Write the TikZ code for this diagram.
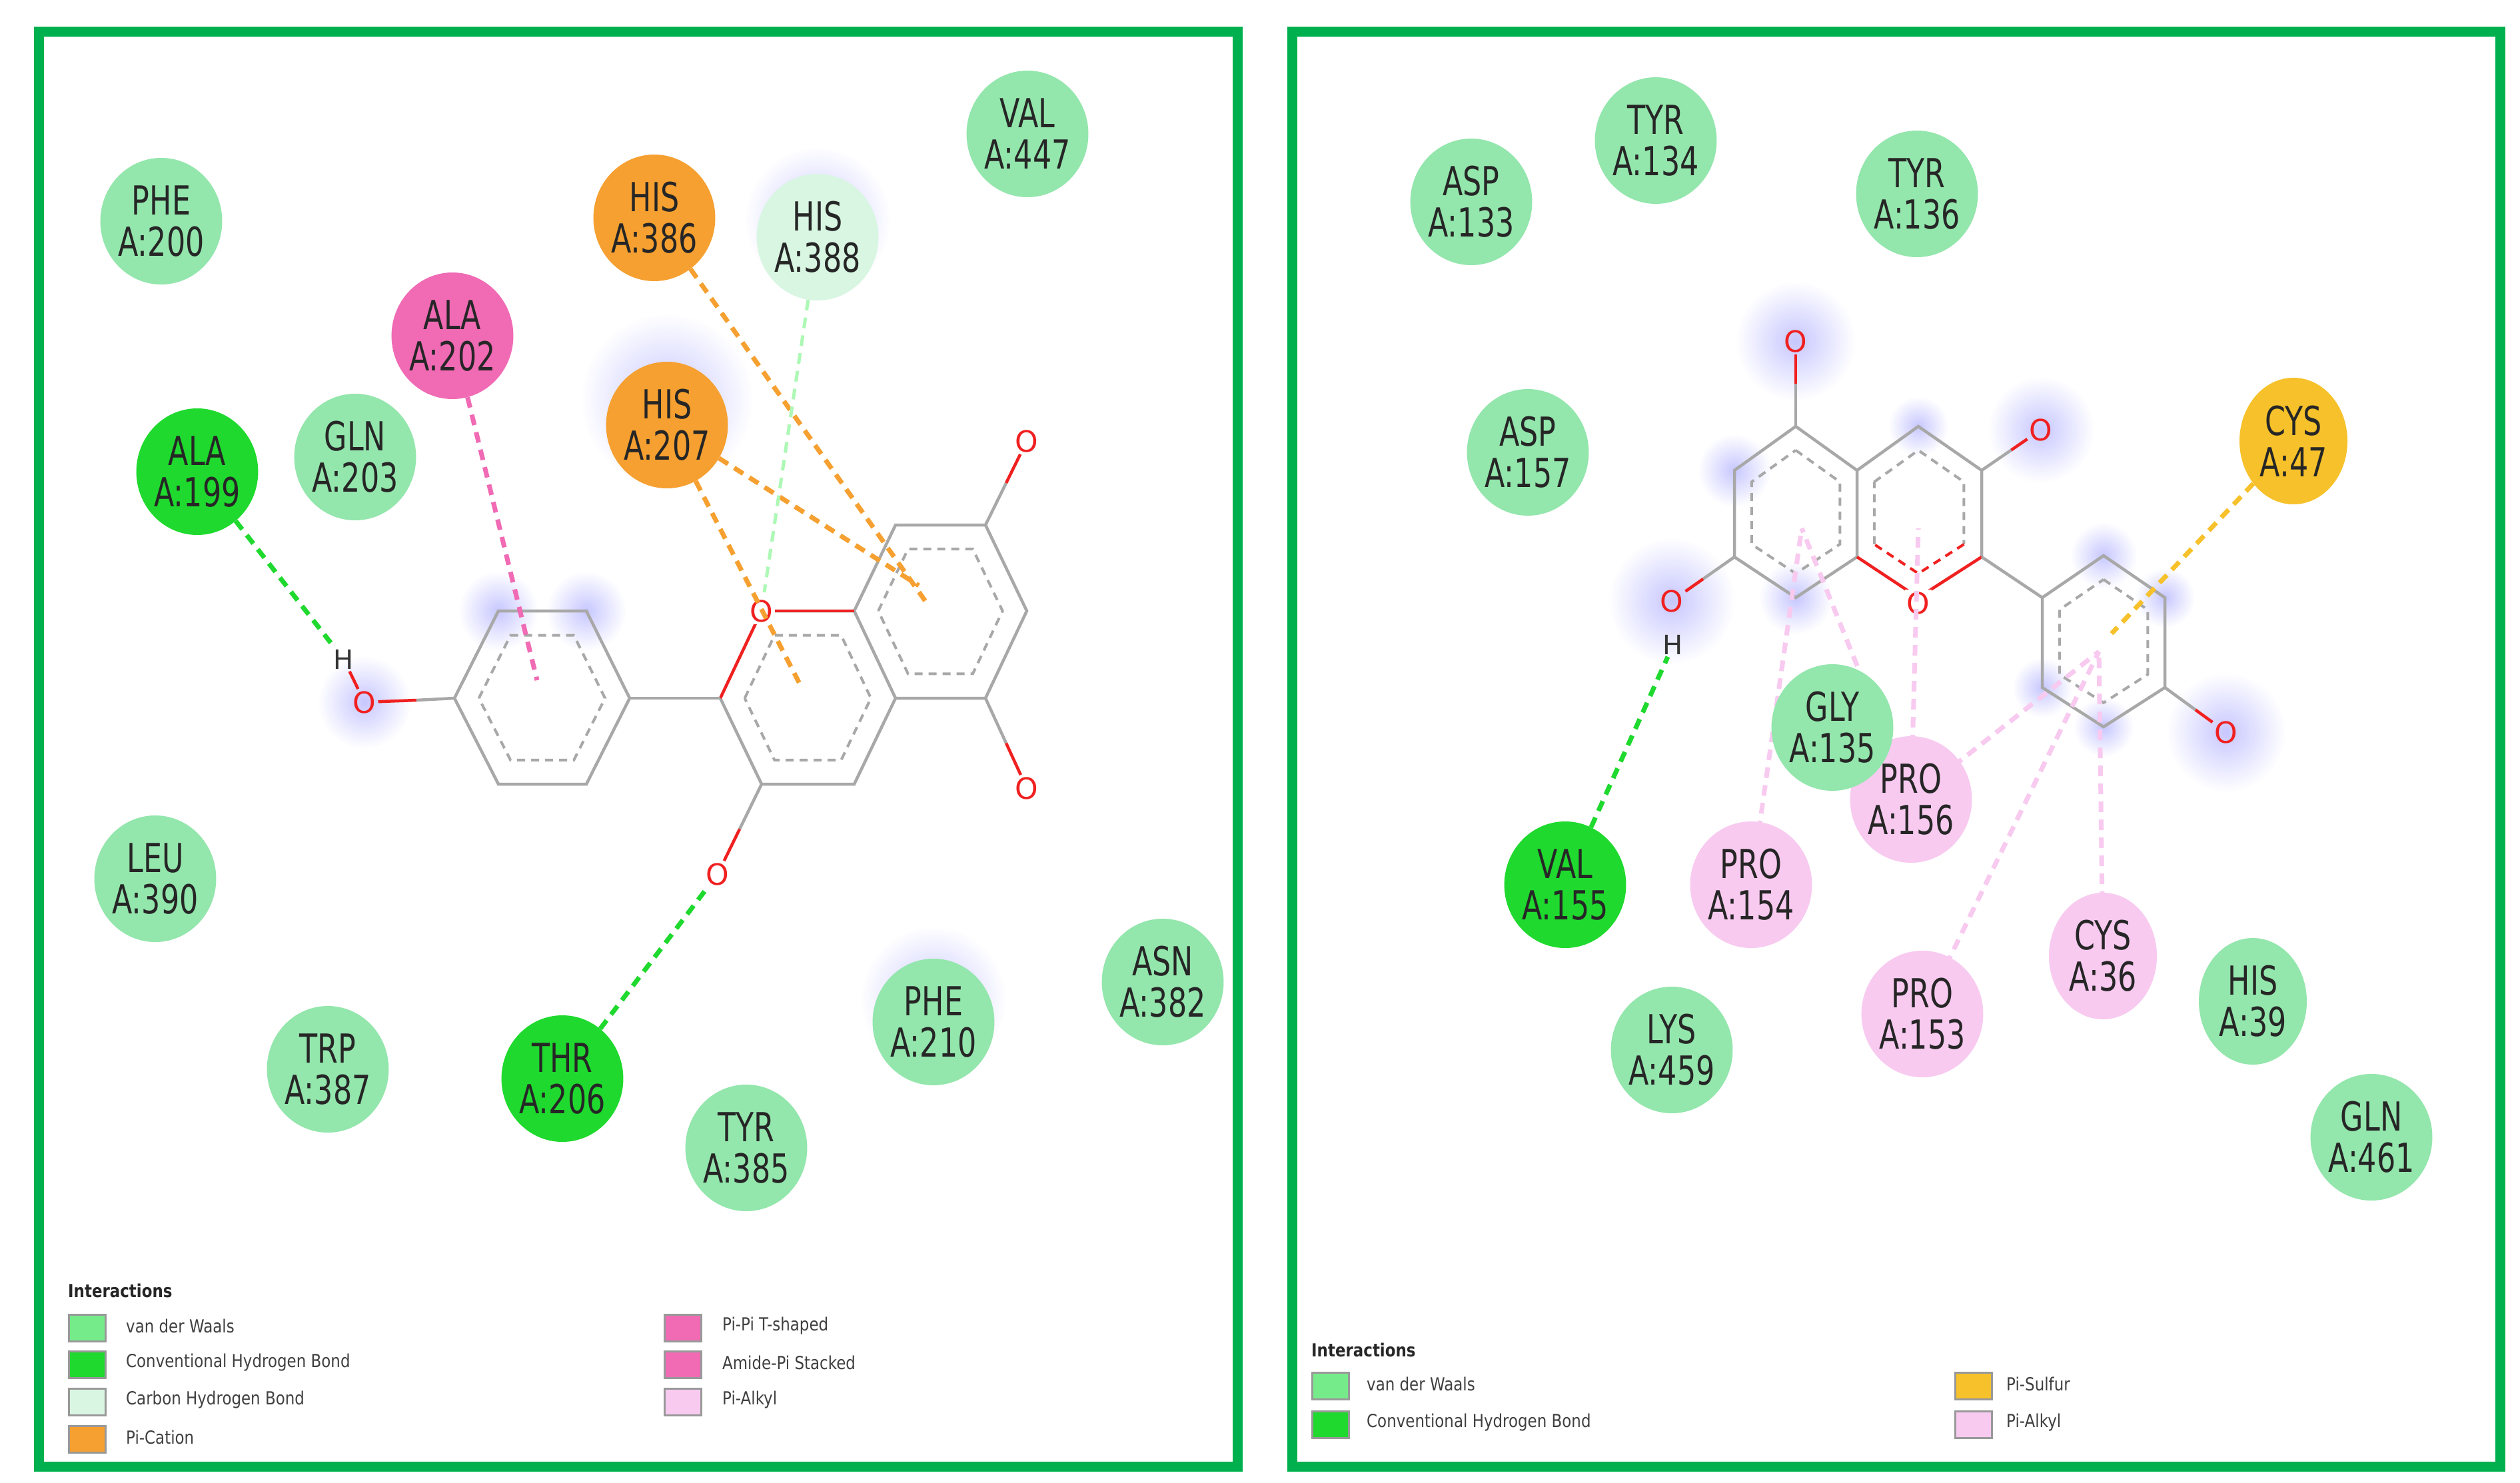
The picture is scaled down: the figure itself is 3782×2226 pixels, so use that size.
\documentclass[tikz,border=0pt]{standalone}
\usepackage{fontspec}
\setmainfont{DejaVu Sans}
\usetikzlibrary{shapes.geometric,calc}
\definecolor{vdw}{HTML}{93E6AC}
\definecolor{hbc}{HTML}{1FD92E}
\definecolor{chb}{HTML}{D8F6E2}
\definecolor{cat}{HTML}{F5A030}
\definecolor{pipi}{HTML}{F06AB4}
\definecolor{alk}{HTML}{F8CAF0}
\definecolor{sul}{HTML}{F6C12A}
\definecolor{frm}{HTML}{00B04E}
\definecolor{bond}{HTML}{A8A8A8}
\definecolor{oxy}{HTML}{F02020}
\newcommand{\resfont}{\fontsize{60}{62}\selectfont}
\newcommand{\legfont}{\fontsize{27}{30}\selectfont}
\newcommand{\rl}[2]{\scalebox{0.74}[1]{#1}\\\scalebox{0.74}[1]{#2}}
\tikzset{
 res/.style={ellipse,minimum width=162pt,minimum height=190pt,inner sep=0pt,align=center,font=\resfont,text=black!85},
 vw/.style={res,fill=vdw},
 hb/.style={res,fill=hbc},
 ch/.style={res,fill=chb},
 ca/.style={res,fill=cat},
 pp/.style={res,fill=pipi},
 al/.style={res,fill=alk},
 su/.style={res,fill=sul},
 bd/.style={draw=bond,line width=4.5pt},
 ib/.style={draw=bond,line width=4pt,dash pattern=on 12pt off 9pt},
 ob/.style={draw=oxy,line width=4.5pt},
 atom/.style={font=\fontsize{44}{44}\selectfont,text=oxy,inner sep=3pt},
 hatom/.style={font=\fontsize{40}{40}\selectfont,text=black!80,inner sep=3pt},
 ia/.style={line width=7pt,dash pattern=on 16pt off 11pt},
 halo/.style={inner color=blue!22,outer color=white},
 frame/.style={draw=frm,line width=15pt},
 lbox/.style={draw=black!40,line width=3pt,minimum width=55pt,minimum height=40pt,inner sep=0pt},
 ltxt/.style={font=\legfont,text=black!75,anchor=west,xscale=0.85,inner sep=0pt},
 lhead/.style={font=\bfseries\legfont,text=black!85,anchor=west,xscale=0.85,inner sep=0pt},
}
\begin{document}
\begin{tikzpicture}[x=1pt,y=-1pt]
\useasboundingbox (0,0) rectangle (3782,2226);
\fill[white] (0,0) rectangle (3782,2226);
% ---------- halos ----------
\foreach \p/\r in {{(748,917)}/60,{(880,917)}/60,{(547,1054)}/70,{(1001,600)}/130,{(1227,330)}/110,{(1401,1500)}/110}
  \shade[halo] \p circle (\r);
\foreach \p/\r in {{(2695,512)}/90,{(3063,645)}/80,{(2509,902)}/95,{(3341,1099)}/90,{(2603,706)}/55,{(2695,897)}/55,{(2879,640)}/45,{(3157,834)}/50,{(3249,897)}/45,{(3065,1032)}/45,{(3157,1091)}/45}
  \shade[halo] \p circle (\r);
% ---------- frames ----------
\draw[frame] (58,48) rectangle (1857,2201);
\draw[frame] (1939,48) rectangle (3752,2201);
% ---------- left molecule ----------
\coordinate (a1) at (682,1048); \coordinate (a2) at (748,917); \coordinate (a3) at (880,917);
\coordinate (a4) at (945,1048); \coordinate (a5) at (880,1177); \coordinate (a6) at (748,1177);
\coordinate (ac) at (813,1048);
\draw[bd] (a1)--(a2)--(a3)--(a4)--(a5)--(a6)--cycle;
\draw[ib] ($(ac)!0.72!(a1)$) -- ($(ac)!0.72!(a2)$) -- ($(ac)!0.72!(a3)$) -- ($(ac)!0.72!(a4)$) -- ($(ac)!0.72!(a5)$) -- ($(ac)!0.72!(a6)$) -- cycle;
\coordinate (b1) at (1081,1048); \coordinate (b2) at (1143,917); \coordinate (b3) at (1282,917);
\coordinate (b4) at (1344,1048); \coordinate (b5) at (1282,1177); \coordinate (b6) at (1143,1177);
\coordinate (bc) at (1212,1048);
\draw[bd] (b2)--(b3)--(b4)--(b5)--(b6)--(b1);
\draw[ob] (b1)--(b2);
\draw[ib] ($(bc)!0.72!(b1)$) -- ($(bc)!0.72!(b2)$) -- ($(bc)!0.72!(b3)$) -- ($(bc)!0.72!(b4)$) -- ($(bc)!0.72!(b5)$) -- ($(bc)!0.72!(b6)$) -- cycle;
\coordinate (c1) at (1282,917); \coordinate (c2) at (1344,788); \coordinate (c3) at (1479,788);
\coordinate (c4) at (1541,917); \coordinate (c5) at (1479,1048); \coordinate (c6) at (1344,1048);
\coordinate (cc) at (1411,917);
\draw[bd] (c1)--(c2)--(c3)--(c4)--(c5)--(c6);
\draw[ib] ($(cc)!0.72!(c1)$) -- ($(cc)!0.72!(c2)$) -- ($(cc)!0.72!(c3)$) -- ($(cc)!0.72!(c4)$) -- ($(cc)!0.72!(c5)$) -- ($(cc)!0.72!(c6)$) -- cycle;
\draw[bd] (a4)--(b1);
\draw[ob] (b2)--(c1);
\node[atom,fill=white] (oring) at (1143,917) {O};
\node[atom] (oa) at (547,1054) {O};
\node[hatom] (ha) at (516,990) {H};
\node[atom] (oc1) at (1541,662) {O};
\node[atom] (oc2) at (1541,1183) {O};
\node[atom] (ob3) at (1077,1312) {O};
\draw[bd] (a1) -- ($(a1)!0.5!(oa.east)$); \draw[ob] ($(a1)!0.5!(oa.east)$) -- (oa);
\draw[ob] (oa) -- (ha);
\draw[bd] (c3) -- ($(c3)!0.5!(oc1)$); \draw[ob] ($(c3)!0.5!(oc1)$) -- (oc1);
\draw[bd] (c5) -- ($(c5)!0.5!(oc2)$); \draw[ob] ($(c5)!0.5!(oc2)$) -- (oc2);
\draw[bd] (b6) -- ($(b6)!0.5!(ob3)$); \draw[ob] ($(b6)!0.5!(ob3)$) -- (ob3);
% ---------- left residues ----------
\node[vw] (phe200) at (242,332) {\rl{PHE}{A:200}};
\node[pp] (ala202) at (679,504) {\rl{ALA}{A:202}};
\node[ca] (his386) at (982,327) {\rl{HIS}{A:386}};
\node[ch] (his388) at (1227,356) {\rl{HIS}{A:388}};
\node[vw] (val447) at (1542,201) {\rl{VAL}{A:447}};
\node[hb] (ala199) at (296,708) {\rl{ALA}{A:199}};
\node[vw] (gln203) at (533,686) {\rl{GLN}{A:203}};
\node[ca] (his207) at (1001,638) {\rl{HIS}{A:207}};
\node[vw] (leu390) at (233,1319) {\rl{LEU}{A:390}};
\node[vw] (trp387) at (492,1605) {\rl{TRP}{A:387}};
\node[hb] (thr206) at (844,1619) {\rl{THR}{A:206}};
\node[vw] (tyr385) at (1120,1723) {\rl{TYR}{A:385}};
\node[vw] (phe210) at (1401,1534) {\rl{PHE}{A:210}};
\node[vw] (asn382) at (1745,1474) {\rl{ASN}{A:382}};
\coordinate (lend1) at (1390,904);
\coordinate (lend2) at (1379,879);
\coordinate (lend3) at (1201,1028);
\coordinate (lend4) at (806,1021);
\coordinate (lend5) at (1147,889);
\draw[ia,draw=hbc] (ala199) -- (ha);
\draw[ia,draw=hbc] (thr206) -- (ob3);
\draw[ia,draw=pipi] (ala202) -- (lend4);
\draw[ia,draw=cat] (his386) -- (lend1);
\draw[ia,draw=cat] (his207) -- (lend2);
\draw[ia,draw=cat] (his207) -- (lend3);
\draw[line width=5pt,dash pattern=on 16pt off 11pt,draw=chb!80!green] (his388) -- (lend5);
% ---------- left legend ----------
\node[lhead] (lh) at (102,1937) {Interactions};
\node[lbox,fill=vdw!80!green] (lb1) at (131,1993) {}; \node[ltxt] (lt1) at (189,1990) {van der Waals};
\node[lbox,fill=hbc] (lb2) at (131,2048) {}; \node[ltxt] (lt2) at (189,2045) {Conventional Hydrogen Bond};
\node[lbox,fill=chb] (lb3) at (131,2104) {}; \node[ltxt] (lt3) at (189,2101) {Carbon Hydrogen Bond};
\node[lbox,fill=cat] (lb4) at (131,2160) {}; \node[ltxt] (lt4) at (189,2157) {Pi-Cation};
\node[lbox,fill=pipi] (lb5) at (1025,1993) {}; \node[ltxt] (lt5) at (1084,1990) {Pi-Pi T-shaped};
\node[lbox,fill=pipi] (lb6) at (1025,2048) {}; \node[ltxt] (lt6) at (1084,2045) {Amide-Pi Stacked};
\node[lbox,fill=alk] (lb7) at (1025,2104) {}; \node[ltxt] (lt7) at (1084,2101) {Pi-Alkyl};
% ---------- right molecule ----------
\coordinate (p1) at (2695,640); \coordinate (p2) at (2787,706); \coordinate (p3) at (2787,836);
\coordinate (p4) at (2695,897); \coordinate (p5) at (2603,836); \coordinate (p6) at (2603,706);
\coordinate (pc) at (2695,768);
\draw[bd] (p1)--(p2)--(p3)--(p4)--(p5)--(p6)--cycle;
\draw[ib] ($(pc)!0.72!(p1)$) -- ($(pc)!0.72!(p2)$) -- ($(pc)!0.72!(p3)$) -- ($(pc)!0.72!(p4)$) -- ($(pc)!0.72!(p5)$) -- ($(pc)!0.72!(p6)$) -- cycle;
\coordinate (q1) at (2879,640); \coordinate (q2) at (2974,706); \coordinate (q3) at (2974,836);
\coordinate (q4) at (2879,897); \coordinate (qc) at (2879,768);
\draw[bd] (p2)--(q1)--(q2)--(q3);
\draw[ob] (q3)--(q4)--(p3);
\draw[ib] ($(qc)!0.72!(p2)$) -- ($(qc)!0.72!(q1)$) -- ($(qc)!0.72!(q2)$) -- ($(qc)!0.72!(q3)$);
\draw[line width=4pt,draw=oxy,dash pattern=on 12pt off 9pt] ($(qc)!0.72!(q3)$) -- ($(qc)!0.72!(q4)$) -- ($(qc)!0.72!(p3)$);
\draw[ib] ($(qc)!0.72!(p3)$) -- ($(qc)!0.72!(p2)$);
\coordinate (r1) at (3157,834); \coordinate (r2) at (3249,897); \coordinate (r3) at (3249,1032);
\coordinate (r4) at (3157,1091); \coordinate (r5) at (3065,1032); \coordinate (r6) at (3065,897);
\coordinate (rc) at (3157,962);
\draw[bd] (r1)--(r2)--(r3)--(r4)--(r5)--(r6)--cycle;
\draw[ib] ($(rc)!0.72!(r1)$) -- ($(rc)!0.72!(r2)$) -- ($(rc)!0.72!(r3)$) -- ($(rc)!0.72!(r4)$) -- ($(rc)!0.72!(r5)$) -- ($(rc)!0.72!(r6)$) -- cycle;
\draw[bd] (q3)--(r6);
\node[atom,fill=white] (oq) at (2879,905) {O};
\node[atom] (op1) at (2695,512) {O};
\node[atom] (oq2) at (3063,645) {O};
\node[atom] (op5) at (2509,902) {O};
\node[hatom] (hp) at (2511,968) {H};
\node[atom] (or3) at (3341,1099) {O};
\draw[bd] (p1) -- ($(p1)!0.5!(op1)$); \draw[ob] ($(p1)!0.5!(op1)$) -- (op1);
\draw[bd] (q2) -- ($(q2)!0.5!(oq2)$); \draw[ob] ($(q2)!0.5!(oq2)$) -- (oq2);
\draw[bd] (p5) -- ($(p5)!0.5!(op5)$); \draw[ob] ($(p5)!0.5!(op5)$) -- (op5);
\draw[bd] (r3) -- ($(r3)!0.5!(or3)$); \draw[ob] ($(r3)!0.5!(or3)$) -- (or3);
% ---------- right residues ----------
\node[vw] (asp133) at (2208,303) {\rl{ASP}{A:133}};
\node[vw] (tyr134) at (2485,211) {\rl{TYR}{A:134}};
\node[vw] (tyr136) at (2877,291) {\rl{TYR}{A:136}};
\node[vw] (asp157) at (2293,679) {\rl{ASP}{A:157}};
\node[su] (cys47) at (3442,662) {\rl{CYS}{A:47}};
\node[hb] (val155) at (2349,1328) {\rl{VAL}{A:155}};
\node[vw] (lys459) at (2509,1576) {\rl{LYS}{A:459}};
\node[vw] (his39) at (3381,1503) {\rl{HIS}{A:39}};
\node[vw] (gln461) at (3559,1707) {\rl{GLN}{A:461}};
\coordinate (rend1) at (2704,793);
\coordinate (rend2) at (2879,793);
\coordinate (rend3) at (3150,978);
\coordinate (rend4) at (3169,951);
\coordinate (s156) at (2868,1200);
\coordinate (s154) at (2628,1328);
\coordinate (s36) at (3156,1435);
\coordinate (s153) at (2885,1522);
\draw[ia,draw=alk] (s154) -- (rend1);
\draw[ia,draw=alk] (s156) -- (rend1);
\draw[ia,draw=alk] (s156) -- (rend2);
\draw[ia,draw=alk] (s156) -- (rend3);
\draw[ia,draw=alk] (s153) -- (rend3);
\draw[ia,draw=alk] (s36) -- (rend3);
\node[al] (pro156) at (s156) {\rl{PRO}{A:156}};
\node[vw] (gly135) at (2750,1092) {\rl{GLY}{A:135}};
\node[al] (pro154) at (s154) {\rl{PRO}{A:154}};
\node[al] (cys36) at (s36) {\rl{CYS}{A:36}};
\node[al] (pro153) at (s153) {\rl{PRO}{A:153}};
\draw[ia,draw=sul] (cys47) -- (rend4);
\draw[ia,draw=hbc] (val155) -- (hp);
% ---------- right legend ----------
\node[lhead] (rh) at (1968,2026) {Interactions};
\node[lbox,fill=vdw!80!green] (rb1) at (1997,2080) {}; \node[ltxt] (rt1) at (2051,2077) {van der Waals};
\node[lbox,fill=hbc] (rb2) at (1997,2138) {}; \node[ltxt] (rt2) at (2051,2135) {Conventional Hydrogen Bond};
\node[lbox,fill=sul] (rb3) at (2962,2080) {}; \node[ltxt] (rt3) at (3011,2077) {Pi-Sulfur};
\node[lbox,fill=alk] (rb4) at (2962,2138) {}; \node[ltxt] (rt4) at (3011,2135) {Pi-Alkyl};
\end{tikzpicture}
\end{document}
